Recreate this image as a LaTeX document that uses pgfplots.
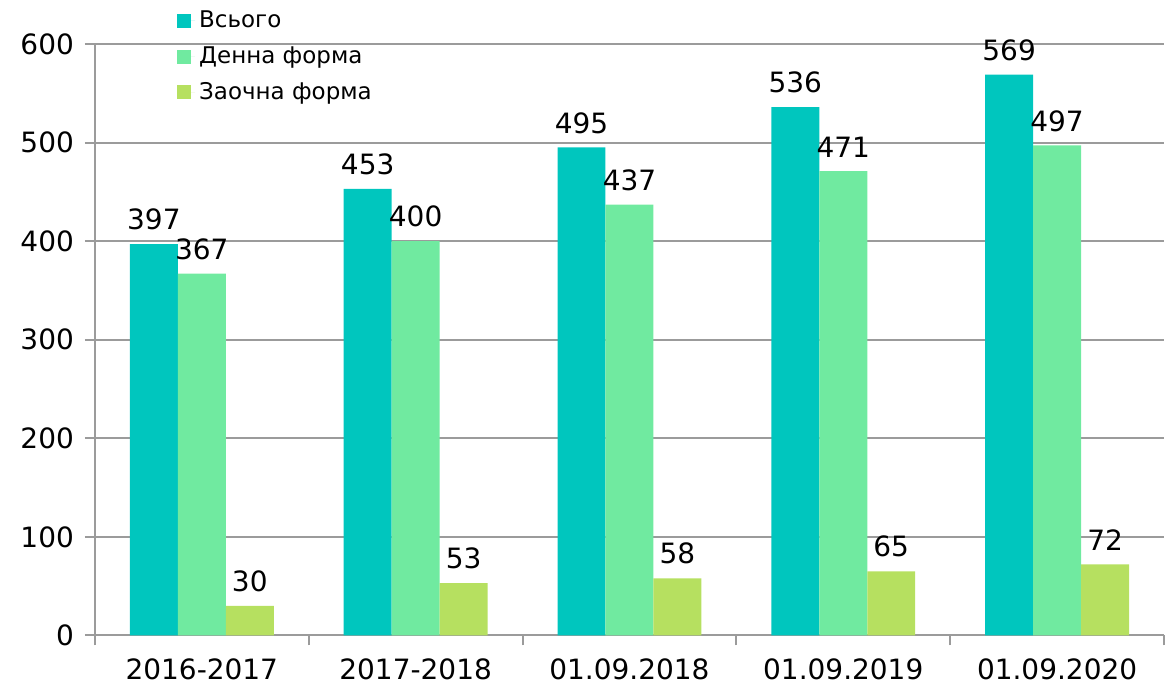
\documentclass[border=0pt]{standalone}
\usepackage{pgfplots}
\pgfplotsset{compat=1.18}
\usepackage{fontspec}
\setmainfont{DejaVu Sans}
\definecolor{cA}{RGB}{0,198,190}
\definecolor{cB}{RGB}{112,234,160}
\definecolor{cC}{RGB}{182,224,96}
\definecolor{gridc}{RGB}{155,155,155}
\begin{document}
\begin{tikzpicture}
\begin{axis}[
  scale only axis, width=535pt, height=296pt,
  xmin=-0.5, xmax=4.5, ymin=0, ymax=600,
  axis x line*=bottom, axis y line*=left,
  axis line style={gridc, line width=1pt},
  xtick={0,1,2,3,4},
  xticklabels={2016-2017,2017-2018,01.09.2018,01.09.2019,01.09.2020},
  minor xtick={-0.5,0.5,1.5,2.5,3.5,4.5},
  major x tick style={draw=none},
  minor tick length=5pt,
  ytick={0,100,...,600},
  tick align=outside, major tick length=5pt,
  tick style={gridc, line width=1pt},
  ymajorgrids, grid style={gridc, line width=1pt},
  /pgf/number format/assume math mode=true,
  tick label style={font=\fontsize{14}{17}\selectfont, black},
  xticklabel style={yshift=-3pt},
  yticklabel style={xshift=-2pt},
  ybar=0pt, bar width=24pt,
  nodes near coords,
  every node near coord/.append style={font=\fontsize{14}{17}\selectfont, black, yshift=3.5pt},
  legend style={draw=none, fill=none, at={(0.071,1.07)}, anchor=north west,
    font=\fontsize{11.5}{13}\selectfont, row sep=4pt, cells={anchor=west}},
  legend image code/.code={\fill[#1] (0pt,-3.5pt) rectangle (7pt,3.5pt); \path (0pt,0pt) -- (9pt,0pt);},
  clip=false,
]
\addplot[fill=cA, draw=none] coordinates {(0,397) (1,453) (2,495) (3,536) (4,569)};
\addplot[fill=cB, draw=none] coordinates {(0,367) (1,400) (2,437) (3,471) (4,497)};
\addplot[fill=cC, draw=none] coordinates {(0,30) (1,53) (2,58) (3,65) (4,72)};
\legend{Всього, Денна форма, Заочна форма}
\end{axis}
\path (current axis.south west) ++(-47.5pt,-26pt) (current axis.north east) ++(0pt,22pt);
\end{tikzpicture}
\end{document}
